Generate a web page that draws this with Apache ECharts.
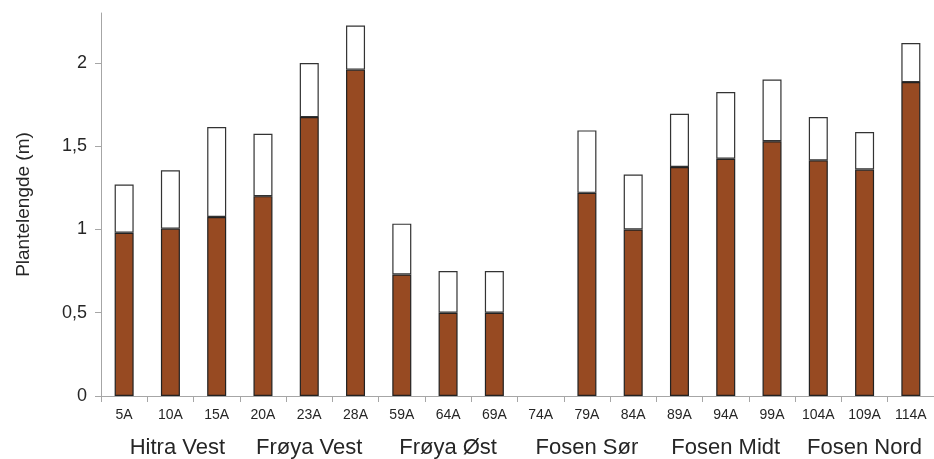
<!DOCTYPE html>
<html>
<head>
<meta charset="utf-8">
<script src="https://cdn.jsdelivr.net/npm/echarts@6/dist/echarts.min.js"></script>
<style>html,body{margin:0;padding:0;background:#fff}#c{width:934px;height:459px}</style>
</head>
<body>
<div id="c"></div>
<script>
var categories = ['5A','10A','15A','20A','23A','28A','59A','64A','69A','74A','79A','84A','89A','94A','99A','104A','109A','114A'];
var groups = ['Hitra Vest','Frøya Vest','Frøya Øst','Fosen Sør','Fosen Midt','Fosen Nord'];
var lowerPart = [0.98,1.005,1.075,1.2,1.675,1.96,0.73,0.5,0.5,null,1.22,1.0,1.375,1.425,1.53,1.415,1.36,1.885];
var upperPart = [0.29,0.35,0.54,0.375,0.325,0.265,0.305,0.25,0.25,null,0.375,0.33,0.32,0.4,0.37,0.26,0.225,0.235];
var yTicks = [0,0.5,1,1.5,2];

var font = 'Liberation Sans, Arial, sans-serif';
var txt = '#262626';
var chart = echarts.init(document.getElementById('c'), null, {renderer:'canvas'});
chart.setOption({
  animation:false,
  backgroundColor:'#fff',
  grid:{left:101, right:-2, top:13, bottom:63, containLabel:false},
  xAxis:[{
    type:'category', data:categories, boundaryGap:true,
    axisLine:{lineStyle:{color:'#a6a6a6', width:1}},
    axisTick:{show:true, alignWithLabel:false, length:6, lineStyle:{color:'#a6a6a6'}},
    axisLabel:{fontFamily:font, fontSize:14, color:txt, margin:12, interval:0}
  },{
    type:'category', data:groups, position:'bottom', boundaryGap:true,
    axisLine:{show:false}, axisTick:{show:false}, splitLine:{show:false},
    axisLabel:{fontFamily:font, fontSize:22, color:txt, margin:41, interval:0,
      formatter:function(v,i){ return i===0 ? '{a|'+v+'}' : v; },
      rich:{a:{fontFamily:font, fontSize:22, color:txt, padding:[0,0,0,14]}}}
  }],
  yAxis:{
    type:'value', min:0, max:2.3, interval:0.5,
    name:'Plantelengde (m)', nameLocation:'middle', nameGap:68,
    nameTextStyle:{fontFamily:font, fontSize:19, color:txt},
    axisLine:{show:true, lineStyle:{color:'#a6a6a6', width:1}},
    axisTick:{show:true, length:6, lineStyle:{color:'#a6a6a6'}, customValues:yTicks},
    splitLine:{show:false},
    axisLabel:{fontFamily:font, fontSize:18, color:txt, margin:14, customValues:yTicks,
      formatter:function(v){ return String(v).replace('.', ','); }}
  },
  series:[{
    type:'bar', stack:'s', data:lowerPart, barWidth:19, xAxisIndex:0,
    itemStyle:{color:'#974A22', borderColor:'#222', borderWidth:1.2}
  },{
    type:'bar', stack:'s', data:upperPart, barWidth:19, xAxisIndex:0,
    itemStyle:{color:'#fff', borderColor:'#333', borderWidth:1.2}
  }]
});
</script>
</body>
</html>
